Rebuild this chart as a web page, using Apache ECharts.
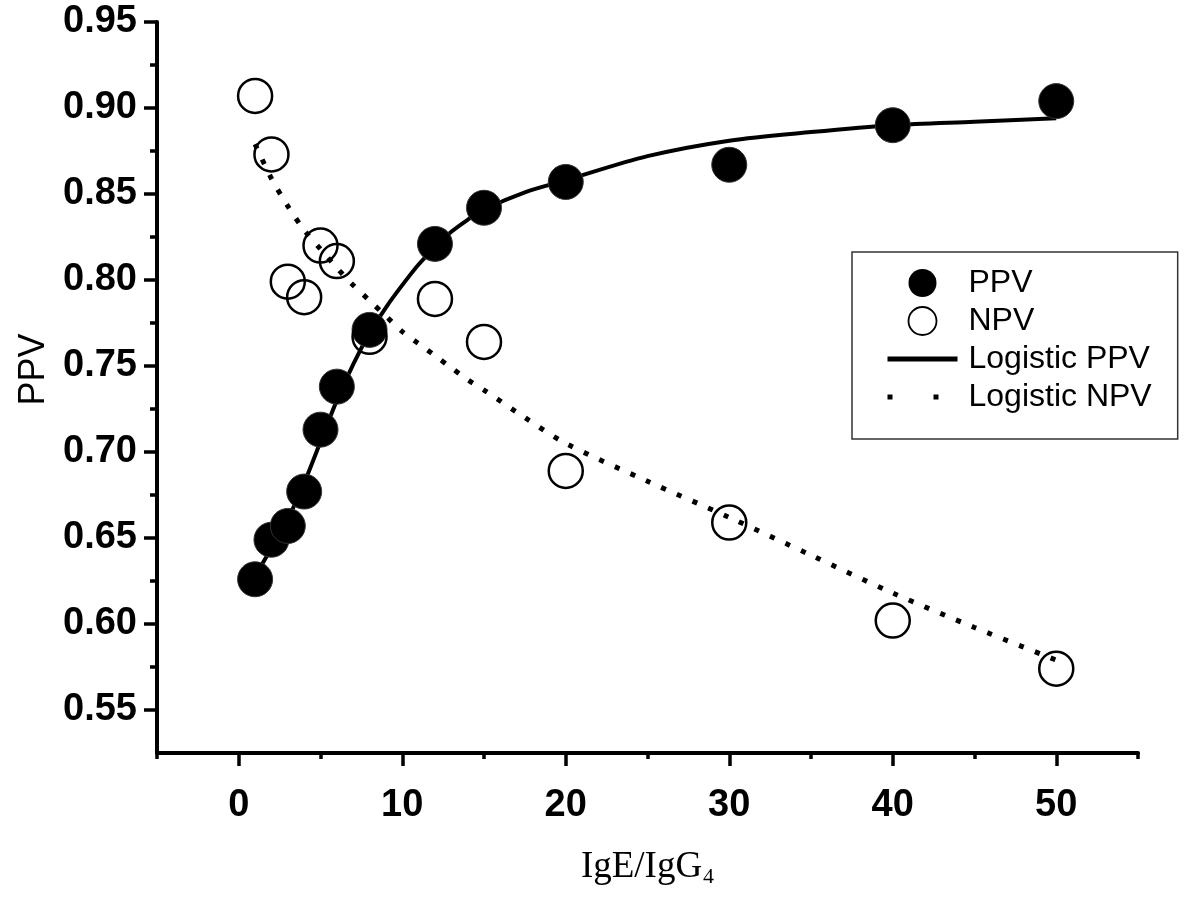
<!DOCTYPE html>
<html>
<head>
<meta charset="utf-8">
<script src="https://cdn.jsdelivr.net/npm/echarts@6/dist/echarts.min.js"></script>
<style>
html,body{margin:0;padding:0;background:#fff;}
#chart{width:1200px;height:909px;}
</style>
</head>
<body>
<div id="chart"></div>
<script>
// ---- data ----
const ratioX = [1, 2, 3, 4, 5, 6, 8, 12, 15, 20, 30, 40, 50];
const ppvValues = [0.626, 0.649, 0.657, 0.677, 0.713, 0.738, 0.771, 0.821, 0.842, 0.857, 0.867, 0.890, 0.904];
const npvValues = [0.907, 0.873, 0.799, 0.790, 0.820, 0.811, 0.767, 0.789, 0.764, 0.689, 0.659, 0.602, 0.574];

const fitX = [1, 2, 3, 4, 5, 6, 7, 8, 9, 10, 11, 12, 13, 14, 15, 17.5, 20, 25, 30, 35, 40, 45, 50];
const logisticPPV = [0.628, 0.644, 0.661, 0.682, 0.706, 0.730, 0.751, 0.769, 0.784, 0.797, 0.809, 0.819, 0.828, 0.835, 0.841, 0.851, 0.858, 0.872, 0.881, 0.886, 0.890, 0.892, 0.894];
const logisticNPV = [0.879, 0.859, 0.843, 0.829, 0.818, 0.807, 0.797, 0.788, 0.779, 0.770, 0.763, 0.756, 0.749, 0.742, 0.736, 0.720, 0.705, 0.683, 0.662, 0.640, 0.618, 0.598, 0.579];

const xMajorTicks = [0, 10, 20, 30, 40, 50];
const xMinorTicks = [-5, 5, 15, 25, 35, 45, 55];
const yMajorTicks = [0.55, 0.60, 0.65, 0.70, 0.75, 0.80, 0.85, 0.90, 0.95];
const yMinorTicks = [0.575, 0.625, 0.675, 0.725, 0.775, 0.825, 0.875, 0.925];

const zip = (xs, ys) => xs.map((x, i) => [x, ys[i]]);

const labelFont = {fontFamily: '"Liberation Sans", Arial, sans-serif', fontWeight: 'bold', fontSize: 38, color: '#000'};
const hiddenSymbol = {color: 'rgba(0,0,0,0)', borderColor: 'rgba(0,0,0,0)', borderWidth: 0};

const chart = echarts.init(document.getElementById('chart'), null, {renderer: 'canvas'});
chart.setOption({
  backgroundColor: '#fff',
  animation: false,
  grid: {left: 157, right: 62, top: 22, bottom: 156, containLabel: false},
  xAxis: [{
    type: 'value', min: -5, max: 55, interval: 5,
    axisLine: {show: true, onZero: false, lineStyle: {color: '#000', width: 4}},
    axisTick: {show: true, customValues: xMajorTicks, length: 13, lineStyle: {color: '#000', width: 3.5}},
    axisLabel: Object.assign({customValues: xMajorTicks, margin: 34}, labelFont),
    splitLine: {show: false},
    name: '{a|IgE/IgG}{s|4}',
    nameLocation: 'middle',
    nameGap: 92,
    nameTextStyle: {
      rich: {
        a: {fontFamily: '"Liberation Serif", "Times New Roman", serif', fontSize: 37, color: '#000', lineHeight: 44},
        s: {fontFamily: '"Liberation Serif", "Times New Roman", serif', fontSize: 22, color: '#000', lineHeight: 44, padding: [20, 0, 0, 1]}
      }
    }
  }, {
    type: 'value', min: -5, max: 55, interval: 5, position: 'bottom',
    axisLine: {show: false, onZero: false},
    axisTick: {show: true, customValues: xMinorTicks, length: 6, lineStyle: {color: '#000', width: 3.5}},
    axisLabel: {show: false},
    splitLine: {show: false}
  }],
  yAxis: [{
    type: 'value', min: 0.525, max: 0.95, interval: 0.025,
    axisLine: {show: true, onZero: false, lineStyle: {color: '#000', width: 4}},
    axisTick: {show: true, customValues: yMajorTicks, length: 13, lineStyle: {color: '#000', width: 3.5}},
    axisLabel: Object.assign({customValues: yMajorTicks, margin: 20, formatter: v => v.toFixed(2)}, labelFont),
    splitLine: {show: false},
    name: 'PPV',
    nameLocation: 'middle',
    nameGap: 98,
    nameTextStyle: {fontFamily: '"Liberation Sans", Arial, sans-serif', fontSize: 36, color: '#000', padding: [0, 0, 0, 36]}
  }, {
    type: 'value', min: 0.525, max: 0.95, interval: 0.025, position: 'left',
    axisLine: {show: false, onZero: false},
    axisTick: {show: true, customValues: yMinorTicks, length: 7, lineStyle: {color: '#000', width: 3.5}},
    axisLabel: {show: false},
    splitLine: {show: false}
  }],
  legend: {
    orient: 'vertical',
    left: 852, top: 252,
    padding: [13, 26, 24, 33],
    borderColor: '#333', borderWidth: 1.5,
    backgroundColor: '#fff',
    itemWidth: 70, itemHeight: 28, itemGap: 2,
    textStyle: {fontFamily: '"Liberation Sans", Arial, sans-serif', fontSize: 32, color: '#000', lineHeight: 20, padding: [16, 0, 0, 6]},
    data: [
      {name: 'PPV', itemStyle: {color: '#000', borderWidth: 0}},
      {name: 'NPV', itemStyle: {borderWidth: 1.8}},
      {name: 'Logistic PPV', lineStyle: {width: 5}, itemStyle: hiddenSymbol},
      {name: 'Logistic NPV', lineStyle: {width: 5, type: [5, 41], cap: 'butt'}, itemStyle: hiddenSymbol}
    ]
  },
  series: [
    {
      name: 'Logistic PPV', type: 'line', xAxisIndex: 0, yAxisIndex: 0,
      data: zip(fitX, logisticPPV), smooth: 0.3, symbol: 'none', showSymbol: false,
      lineStyle: {color: '#000', width: 4}, itemStyle: {color: '#000'}, z: 2
    },
    {
      name: 'Logistic NPV', type: 'line', xAxisIndex: 0, yAxisIndex: 0,
      data: zip(fitX, logisticNPV), smooth: 0.3, symbol: 'none', showSymbol: false,
      lineStyle: {color: '#000', width: 5, type: [5, 12], cap: 'butt'}, itemStyle: {color: '#000'}, z: 2
    },
    {
      name: 'PPV', type: 'scatter', xAxisIndex: 0, yAxisIndex: 0,
      data: zip(ratioX, ppvValues), symbol: 'circle', symbolSize: 35,
      itemStyle: {color: '#000', borderColor: '#333', borderWidth: 1, opacity: 1}, z: 3
    },
    {
      name: 'NPV', type: 'scatter', xAxisIndex: 0, yAxisIndex: 0,
      data: zip(ratioX, npvValues), symbol: 'circle', symbolSize: 34,
      itemStyle: {color: 'rgba(255,255,255,0)', borderColor: '#000', borderWidth: 2.5, opacity: 1}, z: 4
    }
  ]
});
</script>
</body>
</html>
